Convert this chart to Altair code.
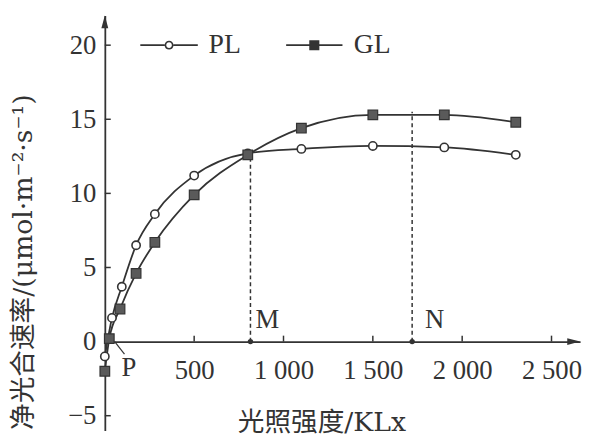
import altair as alt
import pandas as pd

# ---- data ----
pl_x = [0, 40, 95, 175, 280, 500, 800, 1100, 1500, 1900, 2300]
pl_y = [-1.0, 1.6, 3.7, 6.5, 8.6, 11.2, 12.7, 13.0, 13.2, 13.1, 12.6]
gl_x = [0, 25, 85, 175, 280, 500, 800, 1100, 1500, 1900, 2300]
gl_y = [-2.0, 0.2, 2.2, 4.6, 6.7, 9.9, 12.6, 14.4, 15.3, 15.3, 14.8]
series_names = ["PL", "GL"]

x_ticks = [500, 1000, 1500, 2000, 2500]
y_ticks = [-5, 0, 5, 10, 15, 20]
x_domain = [0, 2660]
y_domain = [-6, 22]

marks_x = [815, 1720]          # M, N
marks_y = [12.7, 15.5]
marks_lbl = ["M", "N"]
p_x = 55                        # light compensation point P
p_lead_x = [55, 110]            # short leader line beside P
p_lead_y = [0, -0.85]

x_title = "光照强度/KLx"
y_title = "净光合速率/(μmol·m⁻²·s⁻¹)"

INK = "#333333"
FONT = "'Liberation Serif', 'Noto Sans CJK SC'"
TFONT = "'DejaVu Serif', 'Noto Sans CJK SC'"

df = pd.concat([
    pd.DataFrame({"x": pl_x, "y": pl_y, "series": "PL"}),
    pd.DataFrame({"x": gl_x, "y": gl_y, "series": "GL"}),
])

xs = alt.Scale(domain=x_domain, nice=False, zero=False)
ys = alt.Scale(domain=y_domain, nice=False, zero=False)

X = alt.X("x:Q", scale=xs, axis=alt.Axis(
    values=x_ticks, orient="bottom", offset=-90, ticks=False, grid=False,
    domainColor=INK, domainWidth=1.8, labelFont=FONT, labelFontSize=27,
    labelColor=INK, labelPadding=16,
    labelExpr="replace(format(datum.value, ','), ',', ' ')",
    title=x_title, titleFont=TFONT, titleFontSize=27, titleFontWeight="normal",
    titleColor=INK, titleAlign="left", titleBaseline="middle",
    titleX=134, titleY=82, titleAnchor="start"))
Y = alt.Y("y:Q", scale=ys, axis=alt.Axis(
    values=y_ticks, orient="left", ticks=False, grid=False,
    domainColor=INK, domainWidth=1.8, labelFont=FONT, labelFontSize=27,
    labelColor=INK, labelPadding=9,
    title=y_title, titleFont=TFONT, titleFontSize=27, titleFontWeight="normal",
    titleColor=INK, titleAngle=270, titleAlign="left", titleBaseline="middle",
    titleX=-82, titleY=419, titleAnchor="start"))

base = alt.Chart(df)

lines = base.mark_line(interpolate="monotone", color=INK, strokeWidth=1.8).encode(
    x=X, y=Y, detail="series:N")

pl_pts = base.transform_filter(alt.datum.series == "PL").mark_point(
    shape="circle", filled=True, fill="white", stroke=INK, strokeWidth=1.6,
    size=70, opacity=1).encode(x="x:Q", y="y:Q")
gl_pts = base.transform_filter(alt.datum.series == "GL").mark_point(
    shape="square", filled=True, fill="#5a5a5a", stroke=INK, strokeWidth=1.2,
    size=95, opacity=1).encode(x="x:Q", y="y:Q")

# dashed guides M / N
mdf = pd.DataFrame({"x": marks_x, "y": marks_y, "lbl": marks_lbl, "zero": [0, 0]})
guides = alt.Chart(mdf).mark_rule(color=INK, strokeWidth=1.5, strokeDash=[4, 3]).encode(
    x="x:Q", y="zero:Q", y2="y:Q")
gdots = alt.Chart(mdf).mark_point(shape="circle", filled=True, color=INK, size=30, opacity=1).encode(
    x="x:Q", y="zero:Q")
m_lbl = alt.Chart(mdf[mdf.lbl == "M"]).mark_text(
    font=FONT, fontSize=27, color=INK, align="left", baseline="middle", dx=5, dy=-22).encode(
    x="x:Q", y="zero:Q", text="lbl:N")
n_lbl = alt.Chart(mdf[mdf.lbl == "N"]).mark_text(
    font=FONT, fontSize=27, color=INK, align="left", baseline="middle", dx=13, dy=-22).encode(
    x="x:Q", y="zero:Q", text="lbl:N")

pdf = pd.DataFrame({"x": [p_x], "zero": [0], "lbl": ["P"]})
p_lbl = alt.Chart(pdf).mark_text(
    font=FONT, fontSize=27, color=INK, align="left", baseline="middle", dx=7, dy=27).encode(
    x="x:Q", y="zero:Q", text="lbl:N")
lead_df = pd.DataFrame({"x": [p_lead_x[0]], "y": [p_lead_y[0]],
                        "x2": [p_lead_x[1]], "y2": [p_lead_y[1]]})
p_lead = alt.Chart(lead_df).mark_rule(color=INK, strokeWidth=1.2).encode(
    x="x:Q", y="y:Q", x2="x2:Q", y2="y2:Q")

# inward ticks
ytdf = pd.DataFrame({"v": y_ticks})
ytick = alt.Chart(ytdf).mark_rule(color=INK, strokeWidth=1.5).encode(
    y="v:Q", x=alt.value(0), x2=alt.value(6))
xtdf = pd.DataFrame({"v": x_ticks, "z": 0, "t": 0.4})
xtick = alt.Chart(xtdf).mark_rule(color=INK, strokeWidth=1.5).encode(
    x="v:Q", y="z:Q", y2="t:Q")

# arrow heads at the axis ends
arr_up = "M0,0L-0.7,2.6L0.7,2.6Z"
arr_rt = "M0,0L-2.6,-0.7L-2.6,0.7Z"
up_df = pd.DataFrame({"x": [x_domain[0]], "y": [y_domain[1]]})
rt_df = pd.DataFrame({"x": [x_domain[1]], "y": [0]})
arrow_up = alt.Chart(up_df).mark_point(shape=arr_up, filled=True, color=INK, size=100, opacity=1).encode(
    x="x:Q", y="y:Q")
arrow_rt = alt.Chart(rt_df).mark_point(shape=arr_rt, filled=True, color=INK, size=100, opacity=1).encode(
    x="x:Q", y="y:Q")

# legend symbols: line + marker, drawn as filled outlines
pl_sym = ("M-0.97,-0.027H-0.15V0.027H-0.97Z"
          "M0.15,-0.027H0.97V0.027H0.15Z"
          "M0.15,0A0.15,0.15 0 1,1 -0.15,0A0.15,0.15 0 1,1 0.15,0Z"
          "M0.095,0A0.095,0.095 0 1,0 -0.095,0A0.095,0.095 0 1,0 0.095,0Z")
gl_sym = ("M-0.95,-0.027H-0.17V0.027H-0.95Z"
          "M0.17,-0.027H0.95V0.027H0.17Z"
          "M-0.17,-0.17H0.17V0.17H-0.17Z")
ldf = pd.DataFrame({"series": series_names})
legend_layer = alt.Chart(ldf).mark_point(filled=True, opacity=0, color=INK).encode(
    shape=alt.Shape("series:N", sort=series_names,
                    scale=alt.Scale(domain=series_names, range=[pl_sym, gl_sym]),
                    legend=alt.Legend(
                        title=None, orient="none", legendX=35, legendY=0,
                        direction="horizontal", symbolSize=3600, symbolOpacity=1,
                        symbolFillColor=INK, symbolStrokeWidth=0,
                        labelFont=FONT, labelFontSize=28, labelColor=INK,
                        labelOffset=10, columnPadding=44, padding=0)))

chart = alt.layer(
    guides, lines, ytick, xtick, arrow_up, arrow_rt, gdots, p_lead, pl_pts, gl_pts,
    m_lbl, n_lbl, p_lbl, legend_layer
).properties(
    width=481, height=420,
    padding={"left": 98, "top": 5, "right": 8, "bottom": 9},
    autosize=alt.AutoSizeParams(type="none"),
    background="white",
).configure_view(stroke=None)

chart.save("out.html", embed_options={"renderer": "svg", "actions": False})
